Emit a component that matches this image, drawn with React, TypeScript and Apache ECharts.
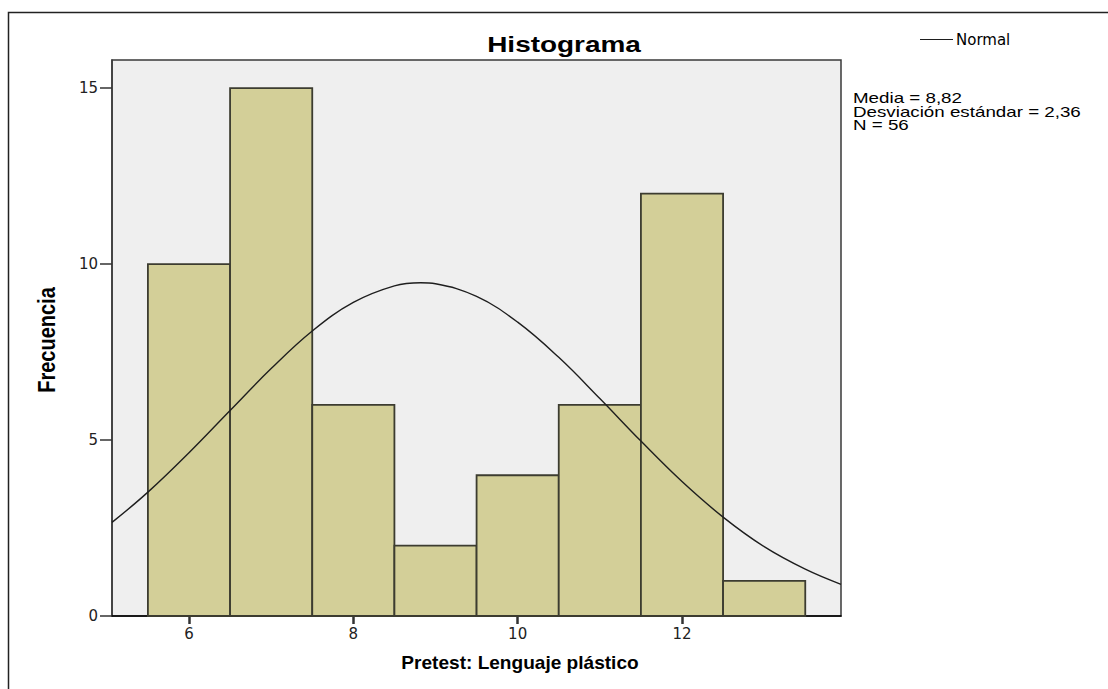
import React, { useEffect, useRef } from "react";
import * as echarts from "echarts";

const binCenters = [6, 7, 8, 9, 10, 11, 12, 13];
const frequencies = [10, 15, 6, 2, 4, 6, 12, 1];
const curveX = [5.063, 5.5, 6, 6.5, 7, 7.5, 8, 8.5, 8.82, 9, 9.5, 10, 10.5, 11, 11.5, 12, 12.5, 13, 13.5, 13.935];
const curveY = [2.66, 3.52, 4.64, 5.84, 7.03, 8.1, 8.91, 9.38, 9.47, 9.44, 9.08, 8.35, 7.35, 6.18, 4.97, 3.82, 2.81, 1.97, 1.33, 0.9];
const xTicks = [6, 8, 10, 12];
const yTicks = [0, 5, 10, 15];
const statsLines = ["Media = 8,82", "Desviación estándar = 2,36", "N = 56"];

const FONT = "Liberation Sans, Arial, sans-serif";
const WIDE = "DejaVu Sans, Verdana, sans-serif";

export default function App() {
  const ref = useRef<HTMLDivElement>(null);
  useEffect(() => {
    if (!ref.current) return;
    const chart = echarts.init(ref.current, null, { renderer: "svg" });
    const barData = binCenters.map((c, i) => [c, frequencies[i]]);
    const curveData = curveX.map((x, i) => [x, curveY[i]]);
    chart.setOption({
      animation: false,
      backgroundColor: "#ffffff",
      textStyle: { fontFamily: FONT },
      legend: {
        data: ["Normal"],
        left: 915,
        top: 27,
        icon: "rect",
        itemWidth: 33,
        itemHeight: 1,
        itemGap: 4,
        textStyle: { fontFamily: WIDE, fontSize: 15, color: "#000", padding: [0, 0, 0, -2] },
      },
      grid: {
        left: 112,
        top: 60,
        width: 729,
        height: 556,
        show: true,
        backgroundColor: "#efefef",
        borderColor: "#3a3a3a",
        borderWidth: 1.5,
      },
      xAxis: {
        type: "value",
        min: 5.063,
        max: 13.935,
        axisLine: { lineStyle: { color: "#000", width: 1.5 } },
        axisTick: { show: true, length: 8, lineStyle: { color: "#333", width: 2.5 }, customValues: xTicks },
        axisLabel: { customValues: xTicks, fontFamily: WIDE, fontSize: 15, color: "#222", margin: 10 },
        splitLine: { show: false },
      },
      yAxis: {
        type: "value",
        min: 0,
        max: 15.8,
        axisLine: { show: true, lineStyle: { color: "#3a3a3a", width: 1.5 } },
        axisTick: { show: true, length: 12, lineStyle: { color: "#333", width: 1.5 }, customValues: yTicks },
        axisLabel: { customValues: yTicks, fontFamily: WIDE, fontSize: 15, color: "#222", margin: 14 },
        splitLine: { show: false },
      },
      series: [
        {
          type: "custom",
          name: "Frecuencia",
          data: barData,
          renderItem: (params: any, api: any) => {
            const c = api.value(0);
            const v = api.value(1);
            const p1 = api.coord([c - 0.5, v]);
            const p2 = api.coord([c + 0.5, 0]);
            return {
              type: "rect",
              shape: { x: p1[0], y: p1[1], width: p2[0] - p1[0], height: p2[1] - p1[1] },
              style: { fill: "#d3cf98", stroke: "#3c3c30", lineWidth: 1.8 },
            };
          },
          z: 2,
        },
        {
          type: "line",
          name: "Normal",
          data: curveData,
          smooth: 0.4,
          showSymbol: false,
          symbol: "none",
          lineStyle: { color: "#1e1e1e", width: 1.4 },
          itemStyle: { color: "#1e1e1e" },
          z: 3,
        },
      ],
      graphic: [
        {
          type: "rect",
          shape: { x: 8.5, y: 12.5, width: 1200, height: 800 },
          style: { fill: "none", stroke: "#222", lineWidth: 1.5 },
          silent: true,
        },
        {
          type: "text",
          x: 564,
          y: 44,
          scaleX: 1.27,
          style: {
            text: "Histograma",
            fontFamily: FONT,
            fontSize: 22,
            fontWeight: "bold",
            fill: "#000",
            align: "center",
            verticalAlign: "middle",
          },
        },
        {
          type: "text",
          x: 853,
          y: 92,
          scaleX: 1.34,
          style: {
            text: statsLines.join("\n"),
            fontFamily: FONT,
            fontSize: 14,
            lineHeight: 13.5,
            fill: "#000",
          },
        },
        {
          type: "text",
          x: 520,
          y: 663,
          scaleX: 1.06,
          style: {
            text: "Pretest: Lenguaje plástico",
            fontFamily: FONT,
            fontSize: 18,
            fontWeight: "bold",
            fill: "#000",
            align: "center",
            verticalAlign: "middle",
          },
        },
        {
          type: "text",
          x: 47,
          y: 340,
          rotation: Math.PI / 2,
          scaleY: 1.2,
          style: {
            text: "Frecuencia",
            fontFamily: FONT,
            fontSize: 20,
            fontWeight: "bold",
            fill: "#000",
            align: "center",
            verticalAlign: "middle",
          },
        },
      ],
    });
    return () => chart.dispose();
  }, []);
  return (
    <div
      ref={ref}
      style={{ position: "fixed", left: 0, top: 0, width: 1108, height: 689 }}
    />
  );
}
